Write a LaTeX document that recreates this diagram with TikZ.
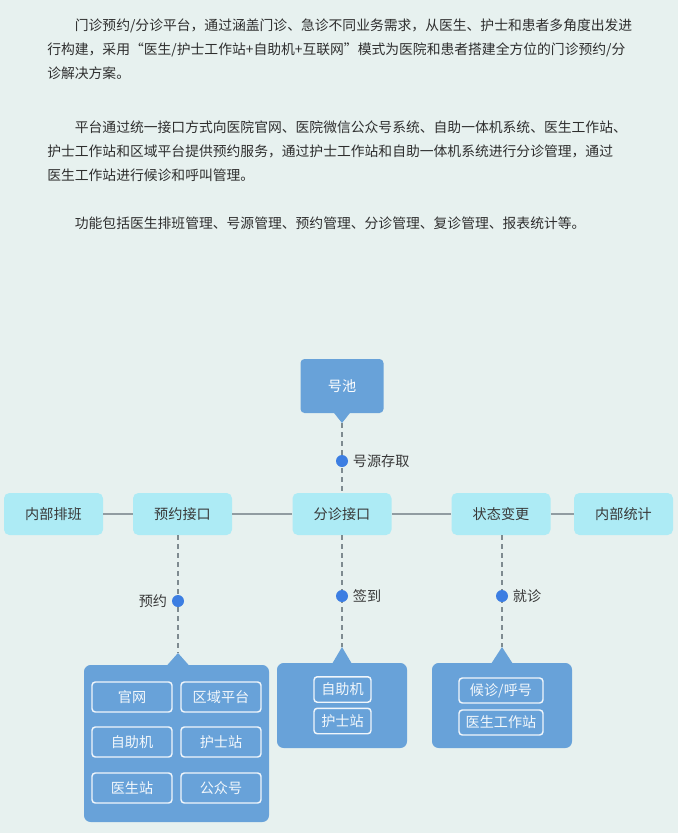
\documentclass[tikz,border=0pt]{standalone}
\usepackage{fontspec}
\newfontfamily\cjk{Noto Sans CJK SC}
\usetikzlibrary{positioning}

\definecolor{bgmint}{HTML}{E7F1EF}
\definecolor{boxcyan}{HTML}{ADEBF5}
\definecolor{boxblue}{HTML}{68A2D9}
\definecolor{dotblue}{HTML}{3C7EE2}
\definecolor{linegray}{HTML}{7E8B90}
\definecolor{txtgray}{HTML}{383838}

\begin{document}
\begin{tikzpicture}[x=0.75pt,y=-0.75pt,
  every node/.style={font=\cjk\fontsize{10.6pt}{12pt}\selectfont,text=txtgray},
  para/.style={anchor=north west,inner sep=0pt,text width=470pt,align=left,
    font=\cjk\fontsize{10.35pt}{18pt}\selectfont,text=black!82},
  rowbox/.style={fill=boxcyan,rounded corners=4pt,minimum width=74.25pt,minimum height=31.5pt,inner sep=0pt},
  poolbox/.style={fill=boxblue,text=white,rounded corners=3pt,minimum width=62.25pt,minimum height=40.5pt,inner sep=0pt},
  groupbox/.style={fill=boxblue,rounded corners=5pt,inner sep=0pt},
  tagbox/.style={draw=white!90!boxblue,line width=1.1pt,rounded corners=2.5pt,text=white!92!boxblue,inner sep=0pt},
  dot/.style={circle,fill=dotblue,minimum size=9pt,inner sep=0pt,label distance=1pt},
  dashline/.style={draw=linegray,line width=1.5pt,dash pattern=on 3.75pt off 3pt},
  hline/.style={draw=linegray!85,line width=1.1pt}]

\fill[bgmint] (0,0) rectangle (678,833);
\useasboundingbox (0,0) rectangle (678,833);

\node[para] (intro) at (47,19) {\hspace*{2em}门诊预约/分诊平台，通过涵盖门诊、急诊不同业务需求，从医生、护士和患者多角度出发进\\
行构建，采用“医生/护士工作站+自助机+互联网”模式为医院和患者搭建全方位的门诊预约/分\\
诊解决方案。};
\node[para] (service) at (47,121) {\hspace*{2em}平台通过统一接口方式向医院官网、医院微信公众号系统、自助一体机系统、医生工作站、\\
护士工作站和区域平台提供预约服务，通过护士工作站和自助一体机系统进行分诊管理，通过\\
医生工作站进行候诊和呼叫管理。};
\node[para] (scope) at (47,217) {\hspace*{2em}功能包括医生排班管理、号源管理、预约管理、分诊管理、复诊管理、报表统计等。};

\node[rowbox] (inner) at (53.5,514) {内部排班};
\node[rowbox] (resv) at (182.5,514) {预约接口};
\node[rowbox] (triage) at (342,514) {分诊接口};
\node[rowbox] (state) at (501,514) {状态变更};
\node[rowbox] (stats) at (623.5,514) {内部统计};
\draw[hline] (inner) -- (resv) -- (triage) -- (state) -- (stats);

\node[poolbox] (pool) at (342,386) {号池};
\coordinate (poolTip) at (342,423);
\fill[boxblue] (pool.south) ++(-8.5,-1) -- ++(17,0) -- (poolTip) -- cycle;
\draw[dashline] (poolTip) -- (triage);
\node[dot,label={right:号源存取}] (fetch) at (342,461) {};

\coordinate (resvTip) at (178,653);
\coordinate (triageTip) at (342,647);
\coordinate (stateTip) at (502,647);
\draw[dashline] (resvTip |- resv.south) -- (resvTip);
\draw[dashline] (triageTip |- triage.south) -- (triageTip);
\draw[dashline] (stateTip |- state.south) -- (stateTip);
\node[dot,label={left:预约}] (book) at (178,601) {};
\node[dot,label={right:签到}] (sign) at (342,596) {};
\node[dot,label={right:就诊}] (visit) at (502,596) {};

\node[groupbox,minimum width=138.75pt,minimum height=117.75pt] (resvGrp) at (176.5,743.5) {};
\fill[boxblue] (resvTip) -- ++(11.5,13) -- ++(-23,0) -- cycle;
\node[tagbox,minimum width=60pt,minimum height=22.5pt] (web) at (132,697) {官网};
\node[tagbox,minimum width=60pt,minimum height=22.5pt] (region) at (221,697) {区域平台};
\node[tagbox,minimum width=60pt,minimum height=22.5pt] (kioskA) at (132,742) {自助机};
\node[tagbox,minimum width=60pt,minimum height=22.5pt] (nurseA) at (221,742) {护士站};
\node[tagbox,minimum width=60pt,minimum height=22.5pt] (doctorA) at (132,788) {医生站};
\node[tagbox,minimum width=60pt,minimum height=22.5pt] (wechat) at (221,788) {公众号};

\node[groupbox,minimum width=97.5pt,minimum height=63.75pt] (triageGrp) at (342,705.5) {};
\fill[boxblue] (triageTip) -- ++(10,17) -- ++(-20,0) -- cycle;
\node[tagbox,minimum width=42.75pt,minimum height=19.1pt] (kioskB) at (342.5,689.5) {自助机};
\node[tagbox,minimum width=42.75pt,minimum height=19.1pt] (nurseB) at (342.5,721) {护士站};

\node[groupbox,minimum width=105pt,minimum height=63.75pt] (stateGrp) at (502,705.5) {};
\fill[boxblue] (stateTip) -- ++(11,17) -- ++(-22,0) -- cycle;
\node[tagbox,minimum width=63pt,minimum height=18.75pt] (queue) at (501,690.5) {候诊/呼号};
\node[tagbox,minimum width=63pt,minimum height=18.75pt] (doctorB) at (501,722.5) {医生工作站};

\end{tikzpicture}
\end{document}
